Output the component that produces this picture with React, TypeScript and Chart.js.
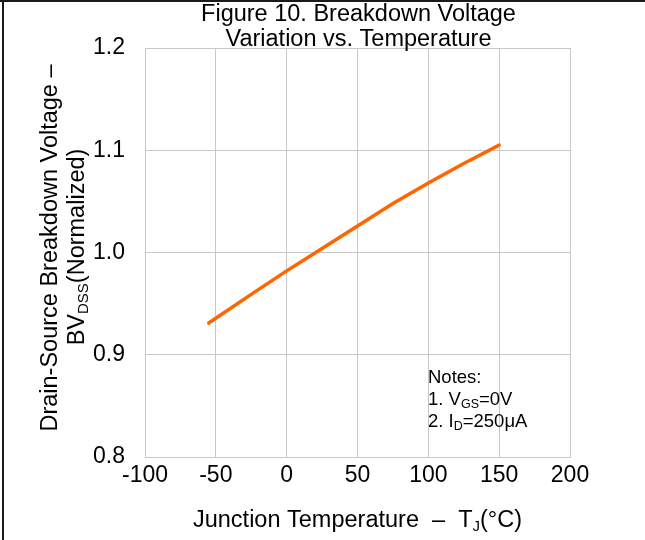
import React, { useEffect, useRef } from "react";
import { Chart, registerables } from "chart.js";

Chart.register(...registerables);

const temps = [-55, -25, 0, 25, 50, 75, 100, 125, 150];
const bvdss = [0.931, 0.959, 0.982, 1.004, 1.026, 1.048, 1.068, 1.087, 1.105];

const xTicks = [-100, -50, 0, 50, 100, 150, 200];
const yTicks = [0.8, 0.9, 1.0, 1.1, 1.2];

const titleLines = ["Figure 10. Breakdown Voltage", "Variation vs. Temperature"];
const yTitleLine1 = "Drain-Source Breakdown Voltage –";
const yTitleLine2 = [
  { t: "BV", sub: false },
  { t: "DSS", sub: true },
  { t: "(Normalized)", sub: false },
];
const xTitle = [
  { t: "Junction Temperature", sub: false },
  { t: "  –  ", sub: false },
  { t: "T", sub: false },
  { t: "J", sub: true },
  { t: "(°C)", sub: false },
];
const notes = [
  [{ t: "Notes:", sub: false }],
  [
    { t: "1. V", sub: false },
    { t: "GS", sub: true },
    { t: "=0V", sub: false },
  ],
  [
    { t: "2. I", sub: false },
    { t: "D", sub: true },
    { t: "=250μA", sub: false },
  ],
];

const FAM = "'Liberation Sans', Arial, sans-serif";

type Piece = { t: string; sub: boolean };

function drawPieces(
  ctx: CanvasRenderingContext2D,
  pieces: Piece[],
  x: number,
  y: number,
  size: number,
  subSize: number,
  subDrop: number
) {
  let cx = x;
  for (const p of pieces) {
    ctx.font = `${p.sub ? subSize : size}px ${FAM}`;
    ctx.fillText(p.t, cx, p.sub ? y + subDrop : y);
    cx += ctx.measureText(p.t).width;
  }
  return cx - x;
}

function measurePieces(ctx: CanvasRenderingContext2D, pieces: Piece[], size: number, subSize: number) {
  let w = 0;
  for (const p of pieces) {
    ctx.font = `${p.sub ? subSize : size}px ${FAM}`;
    w += ctx.measureText(p.t).width;
  }
  return w;
}

const textPlugin = {
  id: "customText",
  afterDraw(chart: any) {
    const ctx: CanvasRenderingContext2D = chart.ctx;
    const area = chart.chartArea;
    ctx.save();
    ctx.fillStyle = "#000";
    ctx.textBaseline = "alphabetic";

    // frame lines
    ctx.fillStyle = "#1a1a1a";
    ctx.fillRect(0, 0, chart.width, 2);
    ctx.fillRect(2, 0, 2, chart.height);
    ctx.fillStyle = "#000";

    // title
    const cx = (area.left + area.right) / 2;
    ctx.textAlign = "center";
    ctx.font = `23.5px ${FAM}`;
    ctx.fillText(titleLines[0], cx + 1, 21);
    ctx.fillText(titleLines[1], cx + 1, 46);

    // x title
    ctx.textAlign = "left";
    const xw = measurePieces(ctx, xTitle, 23.5, 15);
    drawPieces(ctx, xTitle, cx - xw / 2, 527, 23.5, 15, 4);

    // y title
    ctx.save();
    ctx.translate(57, 248);
    ctx.rotate(-Math.PI / 2);
    ctx.textAlign = "center";
    ctx.font = `23.5px ${FAM}`;
    ctx.fillText(yTitleLine1, 0, 0);
    ctx.restore();

    ctx.save();
    ctx.translate(84, 247);
    ctx.rotate(-Math.PI / 2);
    ctx.textAlign = "left";
    const yw = measurePieces(ctx, yTitleLine2, 23.5, 15);
    drawPieces(ctx, yTitleLine2, -yw / 2, 0, 23.5, 15, 4);
    ctx.restore();

    // notes
    ctx.textAlign = "left";
    const baselines = [383, 405, 426.5];
    notes.forEach((line, i) => {
      drawPieces(ctx, line, 428, baselines[i], 18.5, 12.5, 3);
    });

    ctx.restore();
  },
};

export default function App() {
  const ref = useRef<HTMLCanvasElement | null>(null);

  useEffect(() => {
    if (!ref.current) return;
    const chart = new Chart(ref.current, {
      type: "line",
      data: {
        datasets: [
          {
            data: temps.map((t, i) => ({ x: t, y: bvdss[i] })),
            borderColor: "#ff6600",
            borderWidth: 3.5,
            pointRadius: 0,
            tension: 0,
            fill: false,
            borderCapStyle: "round",
          },
        ],
      },
      options: {
        responsive: false,
        animation: false,
        devicePixelRatio: 1,
        layout: { padding: { top: 48, right: 75, left: 0, bottom: 0 } },
        plugins: {
          legend: { display: false },
          tooltip: { enabled: false },
          title: { display: false },
        },
        scales: {
          x: {
            type: "linear",
            min: xTicks[0],
            max: xTicks[xTicks.length - 1],
            afterBuildTicks: (s: any) => {
              s.ticks = xTicks.map((v) => ({ value: v }));
            },
            afterFit: (s: any) => {
              s.height = 83;
            },
            ticks: {
              font: { size: 23, family: FAM },
              color: "#000",
              padding: 5,
              maxRotation: 0,
              autoSkip: false,
              callback: (v: any) => String(v),
            },
            grid: { color: "#c8c8c8", lineWidth: 1, drawTicks: false },
            border: { color: "#c8c8c8", width: 1 },
          },
          y: {
            type: "linear",
            min: yTicks[0],
            max: yTicks[yTicks.length - 1],
            afterBuildTicks: (s: any) => {
              s.ticks = yTicks.map((v) => ({ value: v }));
            },
            afterFit: (s: any) => {
              s.width = 145;
            },
            ticks: {
              font: { size: 23, family: FAM },
              color: "#000",
              padding: 20,
              autoSkip: false,
              callback: (v: any) => Number(v).toFixed(1),
            },
            grid: { color: "#c8c8c8", lineWidth: 1, drawTicks: false },
            border: { color: "#c8c8c8", width: 1 },
          },
        },
      },
      plugins: [textPlugin],
    });
    return () => chart.destroy();
  }, []);

  return (
    <div style={{ position: "absolute", left: 0, top: 0, width: 645, height: 540, background: "#fff" }}>
      <canvas ref={ref} width={645} height={540} style={{ width: 645, height: 540, display: "block" }} />
    </div>
  );
}
